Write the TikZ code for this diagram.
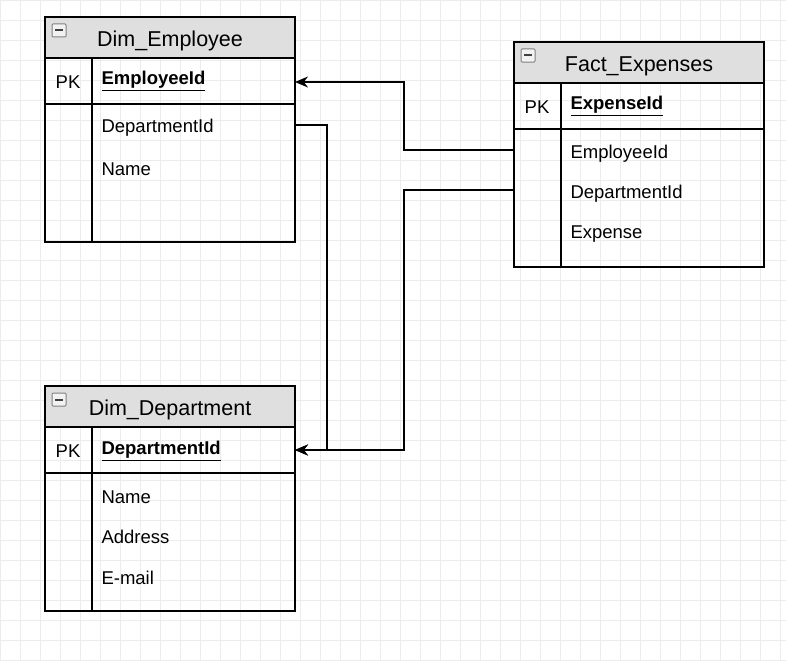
\documentclass[tikz,border=0pt]{standalone}
\usepackage{fontspec}
\setmainfont{Liberation Sans}
\usetikzlibrary{arrows.meta}
\tikzset{
 hdr/.style={font=\fontsize{21.5}{24}\selectfont},
 fld/.style={font=\fontsize{18.5}{21}\selectfont, anchor=west},
 conn/.style={draw=black, line width=1.5pt, -{Stealth[length=13pt,width=11pt]}},
 tline/.style={line width=2pt}
}
\newcommand{\tbl}[4]{% x, y, name, id
 \fill[gray!25] (#1,#2) rectangle ++(250,41);
 \draw[tline] (#1,#2) rectangle ++(250,225);
 \draw[tline] (#1,#2+41) -- ++(250,0);
 \draw[tline] (#1,#2+87) -- ++(250,0);
 \draw[tline] (#1+47,#2+41) -- ++(0,184);
 \draw[gray, fill=gray!10, line width=1pt, rounded corners=1pt] (#1+7,#2+7) rectangle ++(14,13);
 \draw[gray!50!black, line width=2pt] (#1+10,#2+13.5) -- ++(8,0);
 \node[hdr] (#4h) at (#1+125,#2+24) {#3};
 \node[font=\fontsize{18.5}{21}\selectfont] (#4pk) at (#1+23,#2+65) {PK};
 \coordinate (#4e) at (#1,#2);
}
\begin{document}
\begin{tikzpicture}[x=1pt,y=-1pt]
\useasboundingbox (0,0) rectangle (786,661);
\fill[white] (0,0) rectangle (786,661);
\draw[gray!15, line width=0.8pt] (0,0) grid[step=20pt] (786,661);
\tbl{45}{17}{Dim\_Employee}{e}
\tbl{514}{42}{Fact\_Expenses}{f}
\tbl{45}{386}{Dim\_Department}{d}
\node[fld] (epk) at (98,81) {\textbf{\underline{EmployeeId}}};
\node[fld] (e1) at (98,128) {DepartmentId};
\node[fld] (e2) at (98,169) {Name};
\node[fld] (fpk) at (567,106) {\textbf{\underline{ExpenseId}}};
\node[fld] (f1) at (567,154) {EmployeeId};
\node[fld] (f2) at (567,194) {DepartmentId};
\node[fld] (f3) at (567,234) {Expense};
\node[fld] (dpk) at (98,451) {\textbf{\underline{DepartmentId}}};
\node[fld] (d1) at (98,497) {Name};
\node[fld] (d2) at (98,537) {Address};
\node[fld] (d3) at (98,578) {E-mail};
\coordinate (ein) at (295,82);
\coordinate (din) at (295,450);
\coordinate (eout) at (295,125);
\coordinate (f1out) at (514,150);
\coordinate (f2out) at (514,190);
\draw[conn] (f1out) -- (404,150) -- (404,82) -- (ein);
\draw[conn] (f2out) -- (404,190) -- (404,450) -- (din);
\draw[conn] (eout) -- (327,125) -- (327,450) -- (din);
\end{tikzpicture}
\end{document}
